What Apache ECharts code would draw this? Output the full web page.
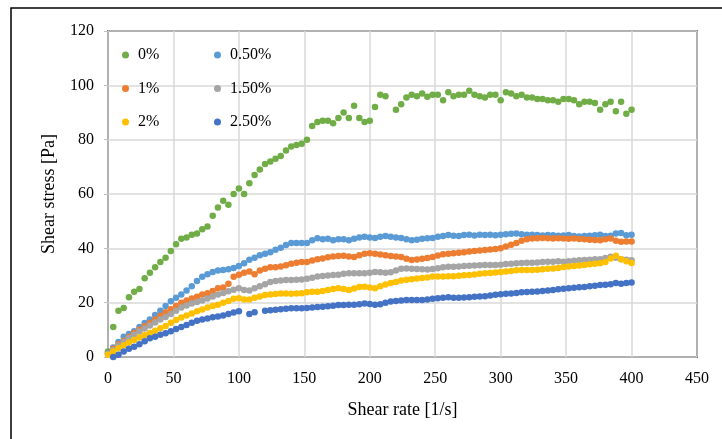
<!DOCTYPE html>
<html>
<head>
<meta charset="utf-8">
<script src="https://cdn.jsdelivr.net/npm/echarts@6/dist/echarts.min.js"></script>
<style>html,body{margin:0;padding:0;background:#fff;}#c{width:722px;height:439px;}</style>
</head>
<body>
<div id="c"></div>
<script>
// Shear rate [1/s], shared sampling for all series
const shearRate = [0,4,8,12,16,20,24,28,32,36,40,44,48,52,56,60,64,68,72,76,80,84,88,92,96,100,104,108,112,116,120,124,128,132,136,140,144,148,152,156,160,164,168,172,176,180,184,188,192,196,200,204,208,212,216,220,224,228,232,236,240,244,248,252,256,260,264,268,272,276,280,284,288,292,296,300,304,308,312,316,320,324,328,332,336,340,344,348,352,356,360,364,368,372,376,380,384,388,392,396,400];

const seriesNames = ['0%','0.50%','1%','1.50%','2%','2.50%'];

const s0 = [2,11,17,18,22,24,25,29,31,33,35,36.5,39,41.5,43.5,44,45,45.5,47,48,52,55,57.5,56,60,62,60,64,67,69,71,72,73,74,76,77.5,78,78.5,80,85,86.5,87,87,86,88,90,88,92.5,88,86.5,87,92,96.5,96,null,91,93,95.5,96.5,96,97,95.8,96.5,96.5,94.5,97.5,96,96.5,96.5,98,96.5,96,95.5,96.5,96.5,94.5,97.5,97,96,96.5,95.5,95.5,95,95,94.5,94.5,94,95,95,94.5,93,94,94,93.5,91,93,94,90.5,94,89.5,91];

const s050 = [1.5,3.5,5.5,7.5,8.5,9.5,11,12.5,13.8,15.5,17,18.8,20.5,21.8,23,24.5,26,28,29.5,30.5,31.3,31.8,32,32.3,32.8,33.5,34.5,35.8,36.5,37.5,38,38.6,39.5,40.2,41.2,42,42,42,42,43,43.7,43.3,43.5,43,43.3,43.3,43,43.5,44,44.3,44,43.8,44.3,44.5,44.3,44,43.8,43.3,43,43.2,43.5,43.7,43.8,44.3,44.5,44.9,44.6,44.5,44.9,45,44.7,45,44.9,45,44.8,45,45.2,45.4,45.5,45.2,45,45,44.9,44.7,44.9,44.8,44.6,44.7,44.9,44.5,44.4,44.5,44.6,44.8,45,44.5,44.6,45.5,45.6,44.8,45];

const s1 = [1.2,3,4.7,6,7.5,8.8,10,11.3,12.5,13.8,15.2,16.5,17.6,18.8,20,20.8,21.5,22.2,23,23.5,24.3,25.3,25.6,27,29.5,30.3,31,31.5,30.5,31.8,32.5,33,33,33.3,33.8,34.3,34.7,35,35,35.5,36,36.3,36.7,37,37.2,37.3,37,36.8,37.5,38,38.2,38,37.7,37.5,37.2,37,36.8,36.2,35.7,35.9,36.2,36.4,36.8,37.4,37.8,38,38.2,38.4,38.6,38.8,39,39.2,39.4,39.6,39.8,40,40.7,41.3,42,42.8,43.3,43.6,43.7,43.8,43.7,43.6,43.7,43.6,43.5,43.6,43.4,43.3,43.2,43.1,43,43.3,43.6,42.8,42.4,42.5,42.5];

const s150 = [1,2.6,4.2,5.6,7,8.2,9.4,10.5,11.6,12.7,13.8,14.7,15.8,17,18.2,19,19.7,20.2,20.8,21.5,22.3,23,23.6,24.2,24.8,25.3,24.7,24.5,25.3,26,26.8,27.6,28,28.2,28.3,28.3,28.4,28.5,28.8,29.2,29.6,29.8,30,30.2,30.3,30.6,30.8,30.8,30.8,30.8,31,31.3,31.2,31,31.2,31.8,32.5,32.6,32.5,32.4,32.3,32.2,32.4,32.7,33,33.2,33.2,33.3,33.5,33.6,33.7,33.8,33.9,33.9,33.9,34,34.2,34.3,34.5,34.6,34.7,34.7,34.8,35,35.1,35.1,35.2,35.1,35.2,35.4,35.6,35.7,35.8,36,36,36.4,36.9,36.5,36,35.8,35.6];

const s2 = [0.8,2,3.2,4.3,5.3,6.3,7.2,8,8.8,9.7,10.6,11.4,12.6,13.6,14.5,15.3,16,16.8,17.5,18.2,18.8,19.2,20,20.6,21.4,21.6,21.2,21.2,21.8,22.3,22.8,23,23.2,23.4,23.4,23.3,23.4,23.5,23.8,24,24,24.3,24.7,25,25.3,25,24.7,25.2,25.8,25.9,25.6,25.3,26,26.7,27.2,27.6,28.2,28.4,28.6,28.9,29.1,29.3,29.6,29.6,29.6,29.7,29.7,29.9,30.1,30.2,30.4,30.6,30.8,30.9,31.1,31.3,31.5,31.7,31.9,32,32,32,32.1,32.3,32.5,32.6,32.8,33.1,33.3,33.5,33.7,33.9,34.1,34.3,34.5,35,36.3,37.3,36,35.2,34.6];

const s250 = [null,0,0.8,2,3,3.8,4.7,5.8,6.9,7.5,8.2,8.7,9.5,10.3,11,11.8,12.6,13.3,13.8,14.2,14.6,14.9,15.3,15.8,16.4,16.8,null,15.8,16.5,null,17,17.2,17.4,17.6,17.8,17.9,17.9,17.9,18,18.2,18.4,18.5,18.7,18.9,19.1,19.1,19.2,19.2,19.4,19.7,19.5,19.2,19.4,20,20.4,20.6,20.8,21,21,21,21,21.2,21.4,21.6,21.8,22,21.8,21.8,21.9,22,22.2,22.3,22.4,22.6,22.9,23.1,23.3,23.4,23.6,23.8,23.9,24,24.1,24.3,24.5,24.7,24.9,25.1,25.3,25.5,25.7,25.8,26,26.2,26.5,26.6,26.8,27.2,27,27.2,27.4];

const yTicks = [0,20,40,60,80,100,120];
const xTicks = [0,50,100,150,200,250,300,350,400,450];

const colors = ['#70AD47','#5B9BD5','#ED7D31','#A5A5A5','#FFC000','#4472C4'];
const allValues = [s0, s050, s1, s150, s2, s250];

const font = "'Liberation Serif','Times New Roman',serif";

function pairs(vals){
  const out = [];
  for (let i = 0; i < shearRate.length; i++) {
    if (vals[i] !== null && vals[i] !== undefined) out.push([shearRate[i], vals[i]]);
  }
  return out;
}

const chart = echarts.init(document.getElementById('c'), null, {renderer:'canvas'});

const legendCommon = {
  orient: 'vertical',
  icon: 'circle',
  itemWidth: 7,
  itemHeight: 7,
  itemGap: 17.5,
  textStyle: {fontFamily: font, fontSize: 16, color: '#000', padding: [0,0,0,4]},
  padding: 0
};

chart.setOption({
  animation: false,
  backgroundColor: '#fff',
  color: colors,
  graphic: [{
    type: 'rect',
    shape: {x: 11, y: 8, width: 740, height: 460},
    style: {fill: 'none', stroke: '#000', lineWidth: 1.5},
    silent: true
  }],
  grid: {left: 108, top: 31, right: 25, bottom: 82, show: true, borderColor: '#000', borderWidth: 1.5, backgroundColor: 'transparent'},
  legend: [
    Object.assign({}, legendCommon, {data: [seriesNames[0], seriesNames[2], seriesNames[4]], left: 122, top: 47}),
    Object.assign({}, legendCommon, {data: [seriesNames[1], seriesNames[3], seriesNames[5]], left: 214, top: 47})
  ],
  xAxis: {
    type: 'value', min: xTicks[0], max: xTicks[xTicks.length-1], interval: 50,
    name: 'Shear rate [1/s]', nameLocation: 'middle', nameGap: 44,
    nameTextStyle: {fontFamily: font, fontSize: 18, color: '#000'},
    axisLine: {show: false},
    axisTick: {show: false},
    axisLabel: {fontFamily: font, fontSize: 16, color: '#000', margin: 14},
    splitLine: {show: true, lineStyle: {color: '#d9d9d9', width: 1.5}}
  },
  yAxis: {
    type: 'value', min: yTicks[0], max: yTicks[yTicks.length-1], interval: 20,
    name: 'Shear stress [Pa]', nameLocation: 'middle', nameGap: 50, nameRotate: 90,
    nameTextStyle: {fontFamily: font, fontSize: 18, color: '#000'},
    axisLine: {show: false},
    axisTick: {show: true, length: 4, lineStyle: {color: '#bfbfbf'}},
    axisLabel: {fontFamily: font, fontSize: 16, color: '#000', margin: 14},
    splitLine: {show: true, lineStyle: {color: '#d9d9d9', width: 1.5}}
  },
  series: seriesNames.map((n, i) => ({
    name: n, type: 'scatter', symbol: 'circle', symbolSize: 6.5,
    itemStyle: {color: colors[i], opacity: 1},
    data: pairs(allValues[i]),
    clip: true,
    z: 2 + i
  }))
});
</script>
</body>
</html>
